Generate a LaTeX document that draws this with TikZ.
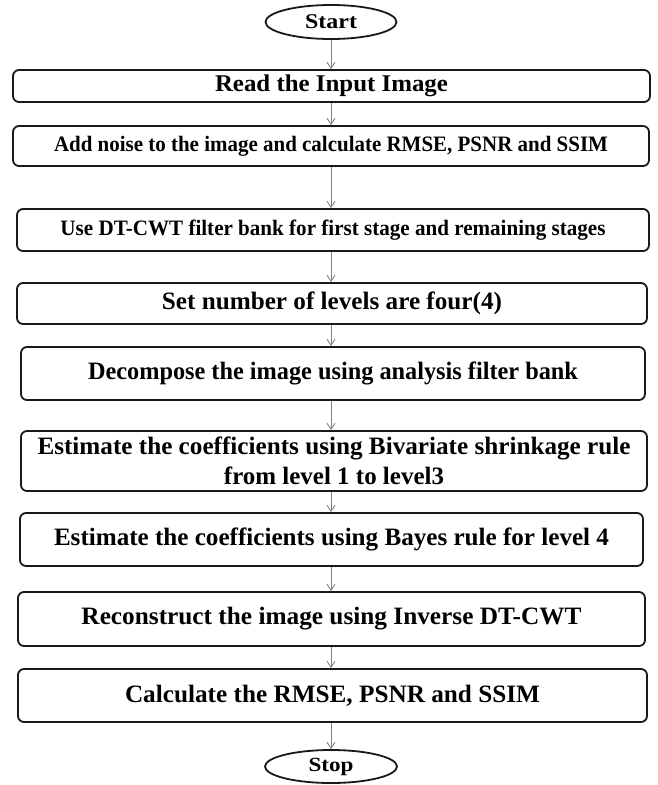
\documentclass[tikz,border=0pt]{standalone}
\usepackage{graphicx}
\usepackage{fontspec}
\setmainfont{Liberation Serif}
\usetikzlibrary{arrows.meta,shapes.geometric}
\newsavebox\fitbox
\newcommand\fitw[3]{\sbox\fitbox{\fontsize{#2}{#2}\selectfont\bfseries #3}\pgfmathsetmacro\fitratio{#1/\wd\fitbox}\scalebox{\fitratio}[1]{\usebox\fitbox}}
\tikzset{
  procbox/.style={draw=black!90, line width=1.8pt, rounded corners=6pt, inner sep=0pt, align=center, font=\fontsize{24}{30}\selectfont},
  termnode/.style={draw=black!90, line width=1.8pt, ellipse, inner sep=0pt},
  flow/.style={draw=black!50, line width=0.9pt, -{Straight Barb[length=6pt,width=8pt,line width=0.9pt]}}
}
\begin{document}
\begin{tikzpicture}[x=1pt,y=-1pt]
\useasboundingbox (0,0) rectangle (657,785);
\node[termnode, minimum width=131pt, minimum height=34pt] (s) at (331,22) {\fitw{52}{21}{Start}};
\node[procbox, minimum width=637pt, minimum height=32pt] (b1) at (331.5,86) {\fitw{233}{24}{Read the Input Image}};
\node[procbox, minimum width=636pt, minimum height=40pt] (b2) at (331,146) {\fitw{554}{22}{Add noise to the image and calculate RMSE, PSNR and SSIM}};
\node[procbox, minimum width=632pt, minimum height=42pt] (b3) at (333,230) {\fitw{545}{22}{Use DT-CWT filter bank for first stage and remaining stages}};
\node[procbox, minimum width=630pt, minimum height=41pt] (b4) at (332,303.5) {\fitw{340}{25}{Set number of levels are four(4)}};
\node[procbox, minimum width=624pt, minimum height=53pt] (b5) at (333,373.5) {\fitw{490}{25}{Decompose the image using analysis filter bank}};
\node[procbox, minimum width=626pt, minimum height=60pt] (b6) at (334,461) {\fitw{593}{25}{Estimate the coefficients using Bivariate shrinkage rule}\\\fitw{220}{25}{from level 1 to level3}};
\node[procbox, minimum width=623pt, minimum height=53pt] (b7) at (331.5,539.5) {\fitw{555}{25}{Estimate the coefficients using Bayes rule for level 4}};
\node[procbox, minimum width=627pt, minimum height=54pt] (b8) at (331.5,619) {\fitw{500}{25}{Reconstruct the image using Inverse DT-CWT}};
\node[procbox, minimum width=629pt, minimum height=53pt] (b9) at (332.5,695.5) {\fitw{415}{25}{Calculate the RMSE, PSNR and SSIM}};
\node[termnode, minimum width=132pt, minimum height=33pt] (e) at (331,766.5) {\fitw{45}{20}{Stop}};
\draw[flow] (s.south) -- (s.south |- b1.north);
\draw[flow] (s.south |- b1.south) -- (s.south |- b2.north);
\draw[flow] (s.south |- b2.south) -- (s.south |- b3.north);
\draw[flow] (s.south |- b3.south) -- (s.south |- b4.north);
\draw[flow] (s.south |- b4.south) -- (s.south |- b5.north);
\draw[flow] (s.south |- b5.south) -- (s.south |- b6.north);
\draw[flow] (s.south |- b6.south) -- (s.south |- b7.north);
\draw[flow] (s.south |- b7.south) -- (s.south |- b8.north);
\draw[flow] (s.south |- b8.south) -- (s.south |- b9.north);
\draw[flow] (s.south |- b9.south) -- (e.north);
\end{tikzpicture}
\end{document}
